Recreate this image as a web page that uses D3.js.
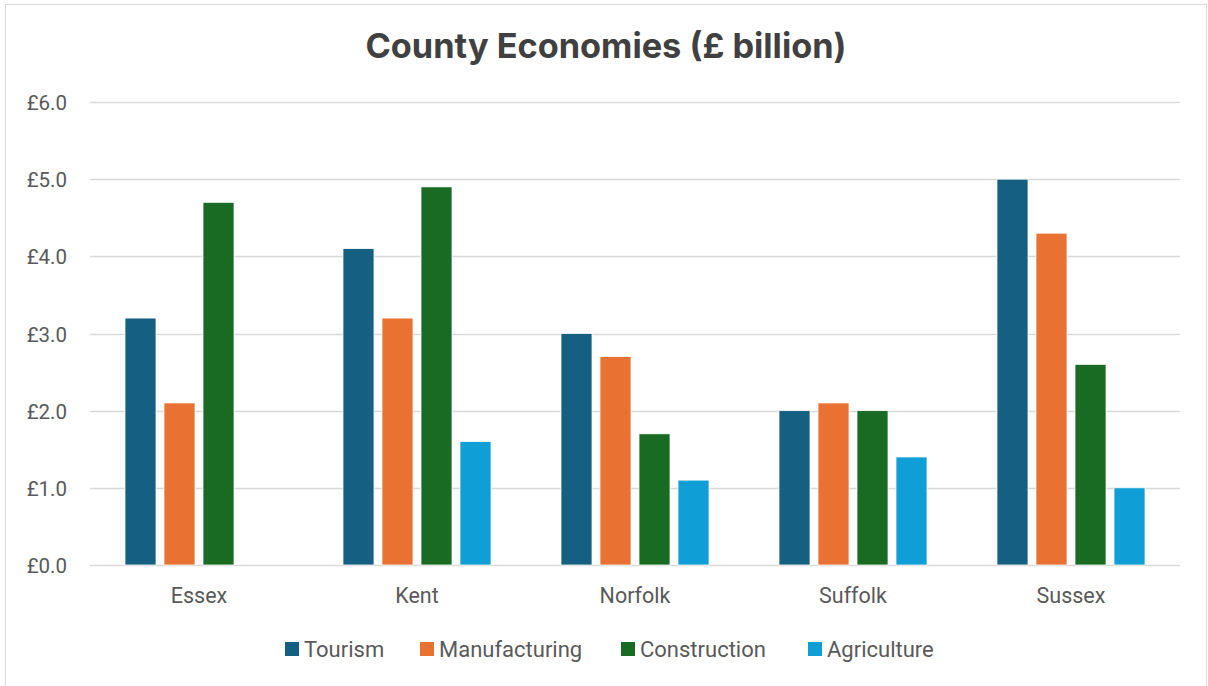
<!DOCTYPE html>
<html>
<head>
<meta charset="utf-8">
<script src="https://cdn.jsdelivr.net/npm/d3@7"></script>
<style>
  html, body { margin: 0; padding: 0; background: #fff; }
  svg { display: block; }
</style>
</head>
<body>
<svg id="chart" width="1208" height="686"></svg>
<script>
// County economy figures, £ billion
const counties = ["Essex", "Kent", "Norfolk", "Suffolk", "Sussex"];
const sectors = ["Tourism", "Manufacturing", "Construction", "Agriculture"];
const tourism       = [3.2, 4.1, 3.0, 2.0, 5.0];
const manufacturing = [2.1, 3.2, 2.7, 2.1, 4.3];
const construction  = [4.7, 4.9, 1.7, 2.0, 2.6];
const agriculture   = [null, 1.6, 1.1, 1.4, 1.0];
const yTicks = [0, 1, 2, 3, 4, 5, 6];

const seriesValues = [tourism, manufacturing, construction, agriculture];
const colors = ["#156082", "#E97132", "#196B24", "#0F9ED5"];
const font = "Roboto, Inter, sans-serif";
const titleFont = "Inter, Roboto, sans-serif";

const svg = d3.select("#chart");

// outer frame
svg.append("rect")
  .attr("x", 5.5).attr("y", 4.5)
  .attr("width", 1201).attr("height", 690)
  .attr("fill", "#fff").attr("stroke", "#d9d9d9").attr("stroke-width", 1);

const x0 = d3.scaleBand().domain(counties).range([90, 1180]).paddingInner(0).paddingOuter(0);
const x1 = d3.scaleBand().domain(sectors).range([0, x0.bandwidth()])
  .paddingInner(8 / 39).paddingOuter(0.897);
const y = d3.scaleLinear().domain([0, 6]).range([565, 102]);

// gridlines
svg.append("g")
  .selectAll("line")
  .data(yTicks)
  .join("line")
  .attr("x1", 90).attr("x2", 1180)
  .attr("y1", d => Math.round(y(d)) + 0.5)
  .attr("y2", d => Math.round(y(d)) + 0.5)
  .attr("stroke", "#d9d9d9").attr("stroke-width", 1.5);

// y axis labels
const yAxis = d3.axisLeft(y).tickValues(yTicks).tickSize(0).tickPadding(0)
  .tickFormat(d => "£" + d3.format(".1f")(d));
const yg = svg.append("g").attr("transform", "translate(67,1)").call(yAxis);
yg.select(".domain").remove();
yg.selectAll("text")
  .attr("fill", "#595959").attr("font-size", 20.5).attr("font-family", font);

// bars
const rows = [];
counties.forEach((c, i) => {
  sectors.forEach((s, j) => {
    const v = seriesValues[j][i];
    if (v != null) rows.push({ county: c, sector: s, value: v, color: colors[j] });
  });
});

svg.append("g")
  .selectAll("rect")
  .data(rows)
  .join("rect")
  .attr("x", d => x0(d.county) + x1(d.sector))
  .attr("width", x1.bandwidth())
  .attr("y", d => y(d.value))
  .attr("height", d => y(0) - y(d.value))
  .attr("fill", d => d.color)
  .attr("stroke", "#fff").attr("stroke-width", 0.75);

// x axis labels
const xAxis = d3.axisBottom(x0).tickSize(0).tickPadding(0);
const xg = svg.append("g").attr("transform", "translate(0,603)").call(xAxis);
xg.select(".domain").remove();
xg.selectAll("text")
  .attr("fill", "#595959").attr("font-size", 21.5).attr("font-family", font)
  .attr("dy", 0);

// title
svg.append("text")
  .attr("x", 606).attr("y", 58)
  .attr("text-anchor", "middle")
  .attr("font-family", titleFont).attr("font-weight", 700).attr("font-size", 34.3)
  .attr("fill", "#404040")
  .text("County Economies (£ billion)");

// legend
const legendX = [285, 420, 621, 808];
const lg = svg.append("g").selectAll("g")
  .data(sectors)
  .join("g")
  .attr("transform", (d, i) => `translate(${legendX[i]},649)`);
lg.append("rect")
  .attr("x", 0).attr("y", -7).attr("width", 14).attr("height", 14)
  .attr("fill", (d, i) => colors[i]);
lg.append("text")
  .attr("x", 19).attr("y", 0).attr("dy", "0.35em")
  .attr("font-family", font).attr("font-size", 22).attr("fill", "#595959")
  .text(d => d);
</script>
</body>
</html>
